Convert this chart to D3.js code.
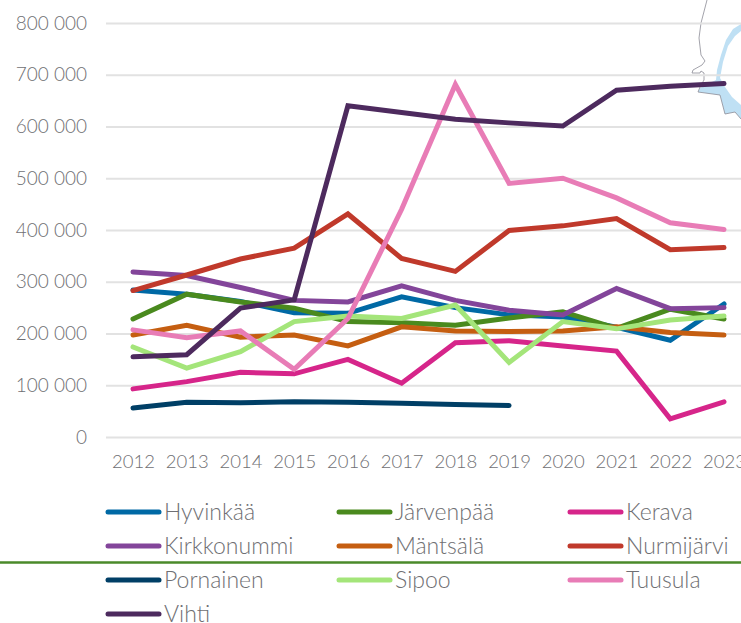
<!DOCTYPE html>
<html>
<head>
<meta charset="utf-8">
<script src="https://cdn.jsdelivr.net/npm/d3@7"></script>
<style>
  html, body { margin: 0; padding: 0; background: #fff; overflow: hidden; }
  text { font-family: Lato, sans-serif; font-weight: 300; fill: #6f6f73; }
</style>
</head>
<body>
<div id="chart"></div>
<script>
var years = [2012, 2013, 2014, 2015, 2016, 2017, 2018, 2019, 2020, 2021, 2022, 2023];
var yTicks = [0, 100000, 200000, 300000, 400000, 500000, 600000, 700000, 800000];

var hyvinkaa    = [284, 276, 262, 240, 239, 271, 250, 236, 232, 212, 187, 257];
var jarvenpaa   = [228, 276, 261, 249, 223, 221, 216, 230, 242, 210, 247, 228];
var kerava      = [93, 107, 125, 122, 150, 104, 182, 186, 176, 166, 35, 68];
var kirkkonummi = [319, 312, 289, 264, 261, 292, 264, 245, 236, 287, 248, 250];
var mantsala    = [197, 216, 193, 197, 176, 213, 205, 204, 205, 213, 202, 197];
var nurmijarvi  = [283, 313, 344, 365, 431, 345, 320, 399, 408, 422, 362, 366];
var pornainen   = [56, 67, 66, 68, 67, 65, 63, 61];
var sipoo       = [174, 133, 165, 223, 234, 229, 255, 144, 223, 209, 226, 234];
var tuusula     = [207, 192, 205, 131, 229, 440, 681, 490, 500, 462, 414, 401];
var vihti       = [155, 159, 249, 265, 640, 627, 614, 607, 601, 670, 678, 683];

var names = ["Hyvinkää", "Järvenpää", "Kerava", "Kirkkonummi", "Mäntsälä", "Nurmijärvi", "Pornainen", "Sipoo", "Tuusula", "Vihti"];
var colors = ["#0069a5", "#4a8a1e", "#d6258a", "#83459a", "#c55e11", "#c0392b", "#003f66", "#a4e57a", "#e87cb6", "#4d2a5e"];
var values = [hyvinkaa, jarvenpaa, kerava, kirkkonummi, mantsala, nurmijarvi, pornainen, sipoo, tuusula, vihti];

const width = 741;
const height = 623;

var svg = d3.select("#chart").append("svg")
  .attr("width", width)
  .attr("height", height);

// SCALES
const xScale = d3.scalePoint().domain(years).range([133, 724]);
const yScale = d3.scaleLinear().domain([0, 800000]).range([437, 23]);
const format = v => d3.format(",")(v).replace(/,/g, " ");

// MAP CORNER (background decoration, top right)
svg.append("path")
  .attr("d", "M741 24 L733 29 L726 40 L721 55 L717 70 L716 80 L700 88 L698 92 L720 95 L725 114 L735 112 L741 119 L741 105 L732 97 L725 87 L720 78 L723 62 L728 46 L735 36 L741 31 Z")
  .attr("fill", "#bfe0f4");
svg.append("path")
  .attr("d", "M707 0 L701 23 L699 38 L701 55 L705 61 L702 65 L693 70 L692 73 L700 73 L701 71 L704 73 L704 80 L700 87 L698 92 L720 95 L725 114 L735 112 L741 119")
  .attr("fill", "none").attr("stroke", "#8c8c96").attr("stroke-width", 0.8);

// GRID + Y AXIS
var yAxis = d3.axisLeft(yScale).tickValues(yTicks).tickFormat(format).tickSize(-(width - 106)).tickPadding(19);
var gy = svg.append("g").attr("transform", "translate(106,0)").call(yAxis);
gy.select(".domain").remove();
gy.selectAll("line").attr("stroke", "#e2e2e2").attr("stroke-width", 2);
gy.selectAll("text").style("font-size", "19px");

// X AXIS
var xAxis = d3.axisBottom(xScale).tickSize(0).tickFormat(d3.format("d")).tickPadding(18);
var gx = svg.append("g").attr("transform", "translate(0,437)").call(xAxis);
gx.select(".domain").remove();
gx.selectAll("text").style("font-size", "18.5px");

// LINES
const line = d3.line()
  .x((d, i) => xScale(years[i]))
  .y(d => yScale(d * 1000));

svg.selectAll(".series")
  .data(values)
  .enter()
  .append("path")
  .attr("class", "series")
  .attr("d", d => line(d))
  .attr("fill", "none")
  .attr("stroke", (d, i) => colors[i])
  .attr("stroke-width", 5)
  .attr("stroke-linecap", "round")
  .attr("stroke-linejoin", "miter");

// LEGEND
var legend = svg.selectAll(".legend")
  .data(names)
  .enter()
  .append("g")
  .attr("class", "legend")
  .attr("transform", (d, i) => "translate(" + (105 + (i % 3) * 231) + "," + (512 + Math.floor(i / 3) * 34) + ")");

legend.append("line")
  .attr("x1", 3).attr("x2", 54)
  .attr("stroke", (d, i) => colors[i])
  .attr("stroke-width", 5)
  .attr("stroke-linecap", "round");

legend.append("text")
  .attr("x", 59)
  .attr("y", 8)
  .style("font-size", "23px")
  .text(d => d);

// GREEN RULE ACROSS THE SLIDE
svg.append("line")
  .attr("x1", 0).attr("x2", width)
  .attr("y1", 562.5).attr("y2", 562.5)
  .attr("stroke", "#4a8a2a")
  .attr("stroke-width", 2.5);
</script>
</body>
</html>
